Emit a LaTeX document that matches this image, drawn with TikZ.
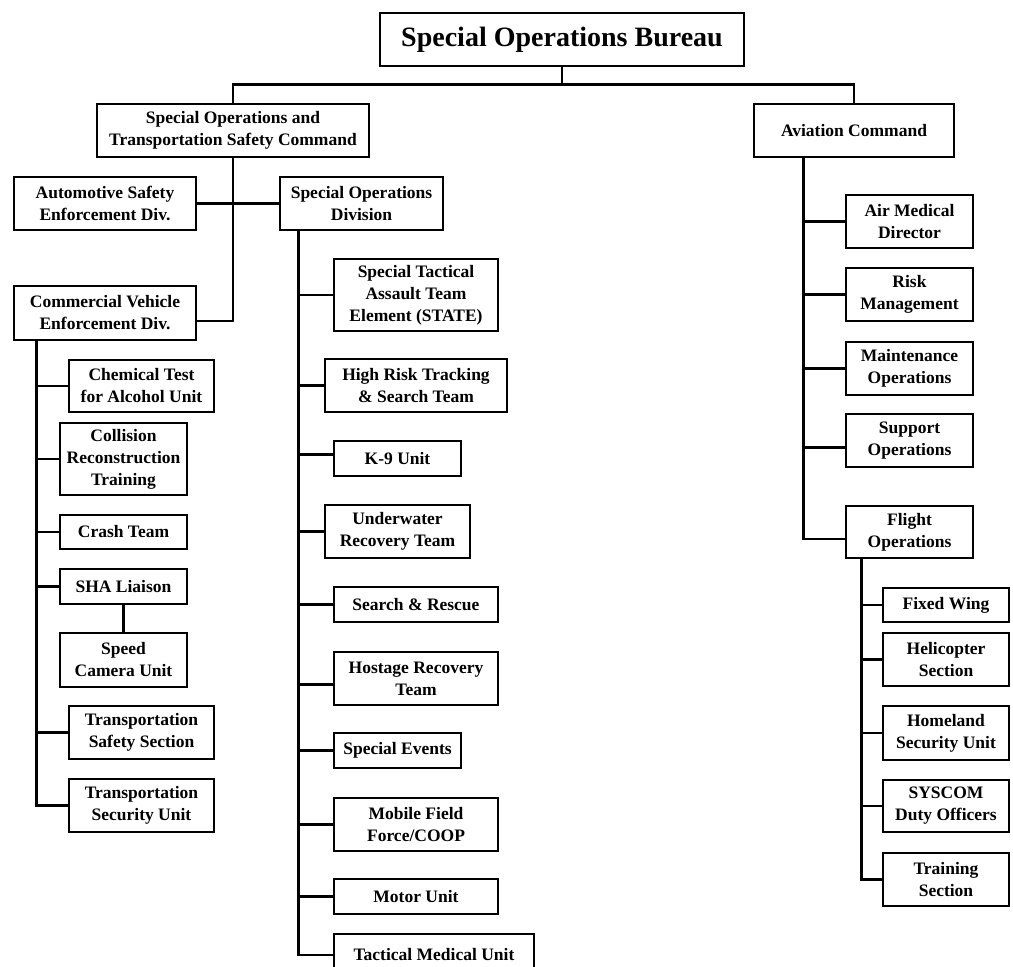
\documentclass[tikz,border=0pt]{standalone}
\usepackage{fontspec}
\setmainfont{Liberation Serif}
\usepackage{tikz}

\begin{document}
\begin{tikzpicture}[x=1pt, y=-1pt, semithick,
  unit/.style={draw, line width=2.9pt, align=center, inner sep=1pt,
    font=\fontsize{17.5}{22}\selectfont\bfseries},
  link/.style={line width=2.7pt}]

\path[use as bounding box, clip] (0,0) rectangle (1013,967);

% top of the chart
\node[unit, minimum width=364pt, minimum height=53pt, font=\fontsize{28}{30}\selectfont\bfseries] (sob) at (562,39.5) {Special Operations Bureau};
\node[unit, minimum width=272pt, minimum height=53pt] (sotsc) at (233,130.5) {Special Operations and\\Transportation Safety Command};
\node[unit, minimum width=200pt, minimum height=53pt] (avc) at (854,130.5) {Aviation Command};

% left branch
\node[unit, minimum width=182pt, minimum height=53pt] (ased) at (105,203.5) {Automotive Safety\\Enforcement Div.};
\node[unit, minimum width=182pt, minimum height=54pt] (cved) at (105,313) {Commercial Vehicle\\Enforcement Div.};
\node[unit, minimum width=145pt, minimum height=52pt] (chem) at (141.5,386) {Chemical Test\\for Alcohol Unit};
\node[unit, minimum width=127pt, minimum height=72pt] (crt) at (123.5,459) {Collision\\Reconstruction\\Training};
\node[unit, minimum width=127pt, minimum height=34pt] (crash) at (123.5,532) {Crash Team};
\node[unit, minimum width=127pt, minimum height=35pt] (sha) at (123.5,586.5) {SHA Liaison};
\node[unit, minimum width=127pt, minimum height=54pt] (scu) at (123.5,660) {Speed\\Camera Unit};
\node[unit, minimum width=145pt, minimum height=53pt] (tss) at (141.5,732.5) {Transportation\\Safety Section};
\node[unit, minimum width=145pt, minimum height=53pt] (tsu) at (141.5,805.5) {Transportation\\Security Unit};

% special operations division
\node[unit, minimum width=163pt, minimum height=53pt] (sod) at (361.5,203.5) {Special Operations\\Division};
\node[unit, minimum width=164pt, minimum height=72pt] (state) at (416,295) {Special Tactical\\Assault Team\\Element (STATE)};
\node[unit, minimum width=182pt, minimum height=53pt] (hrst) at (416,385.5) {High Risk Tracking\\\& Search Team};
\node[unit, minimum width=127pt, minimum height=35pt] (k9) at (397.5,458.5) {K-9 Unit};
\node[unit, minimum width=145pt, minimum height=53pt] (urt) at (397.5,531.5) {Underwater\\Recovery Team};
\node[unit, minimum width=164pt, minimum height=35pt] (sar) at (416,604.5) {Search \& Rescue};
\node[unit, minimum width=164pt, minimum height=53pt] (hort) at (416,678.5) {Hostage Recovery\\Team};
\node[unit, minimum width=127pt, minimum height=35pt] (spev) at (397.5,750.5) {Special Events};
\node[unit, minimum width=164pt, minimum height=53pt] (mff) at (416,824.5) {Mobile Field\\Force/COOP};
\node[unit, minimum width=164pt, minimum height=35pt] (motor) at (416,896.5) {Motor Unit};
\node[unit, minimum width=200pt, minimum height=42pt] (tmu) at (434,955) {Tactical Medical Unit};

% aviation command
\node[unit, minimum width=127pt, minimum height=53pt] (amd) at (909.5,221.5) {Air Medical\\Director};
\node[unit, minimum width=127pt, minimum height=53pt] (risk) at (909.5,294.5) {Risk\\Management};
\node[unit, minimum width=127pt, minimum height=53pt] (maint) at (909.5,368.5) {Maintenance\\Operations};
\node[unit, minimum width=127pt, minimum height=53pt] (supp) at (909.5,440.5) {Support\\Operations};
\node[unit, minimum width=127pt, minimum height=52pt] (flops) at (909.5,532) {Flight\\Operations};
\node[unit, minimum width=126pt, minimum height=34pt] (fw) at (946,605) {Fixed Wing};
\node[unit, minimum width=126pt, minimum height=53pt] (heli) at (946,659.5) {Helicopter\\Section};
\node[unit, minimum width=126pt, minimum height=54pt] (hsu) at (946,733) {Homeland\\Security Unit};
\node[unit, minimum width=126pt, minimum height=52pt] (sysc) at (946,806) {SYSCOM\\Duty Officers};
\node[unit, minimum width=126pt, minimum height=53pt] (trs) at (946,879.5) {Training\\Section};

\coordinate (bar) at ([yshift=-17pt]sob.south);
\coordinate (cvedstem) at ([xshift=24pt]cved.south west);
\coordinate (sodstem) at ([xshift=20pt]sod.south west);
\coordinate (avstem) at ([xshift=51pt]avc.south west);
\coordinate (flstem) at ([xshift=17pt]flops.south west);

\draw[link] (sob.south) -- (bar);
\draw[link] (sotsc.north) |- (bar) -| (avc.north);

\draw[link] (sotsc.south) |- ([yshift=-8pt]cved.east);
\draw[link] (ased.east) -- (sod.west);

\draw[link] (cvedstem) |- (tsu.west);
\draw[link] (chem.west) -- (chem.west -| cvedstem);
\draw[link] (crt.west) -- (crt.west -| cvedstem);
\draw[link] (crash.west) -- (crash.west -| cvedstem);
\draw[link] (sha.west) -- (sha.west -| cvedstem);
\draw[link] (tss.west) -- (tss.west -| cvedstem);
\draw[link] (sha.south) -- (scu.north);

\draw[link] (sodstem) |- (tmu.west);
\draw[link] (state.west) -- (state.west -| sodstem);
\draw[link] (hrst.west) -- (hrst.west -| sodstem);
\draw[link] ([yshift=4pt]k9.west) -- ([yshift=4pt]k9.west -| sodstem);
\draw[link] (urt.west) -- (urt.west -| sodstem);
\draw[link] (sar.west) -- (sar.west -| sodstem);
\draw[link] ([yshift=-6pt]hort.west) -- ([yshift=-6pt]hort.west -| sodstem);
\draw[link] (spev.west) -- (spev.west -| sodstem);
\draw[link] (mff.west) -- (mff.west -| sodstem);
\draw[link] (motor.west) -- (motor.west -| sodstem);

\draw[link] (avstem) |- ([yshift=-7pt]flops.west);
\draw[link] (amd.west) -- (amd.west -| avstem);
\draw[link] (risk.west) -- (risk.west -| avstem);
\draw[link] (maint.west) -- (maint.west -| avstem);
\draw[link] ([yshift=-7pt]supp.west) -- ([yshift=-7pt]supp.west -| avstem);

\draw[link] (flstem) |- (trs.west);
\draw[link] (fw.west) -- (fw.west -| flstem);
\draw[link] (heli.west) -- (heli.west -| flstem);
\draw[link] (hsu.west) -- (hsu.west -| flstem);
\draw[link] (sysc.west) -- (sysc.west -| flstem);

\end{tikzpicture}
\end{document}
